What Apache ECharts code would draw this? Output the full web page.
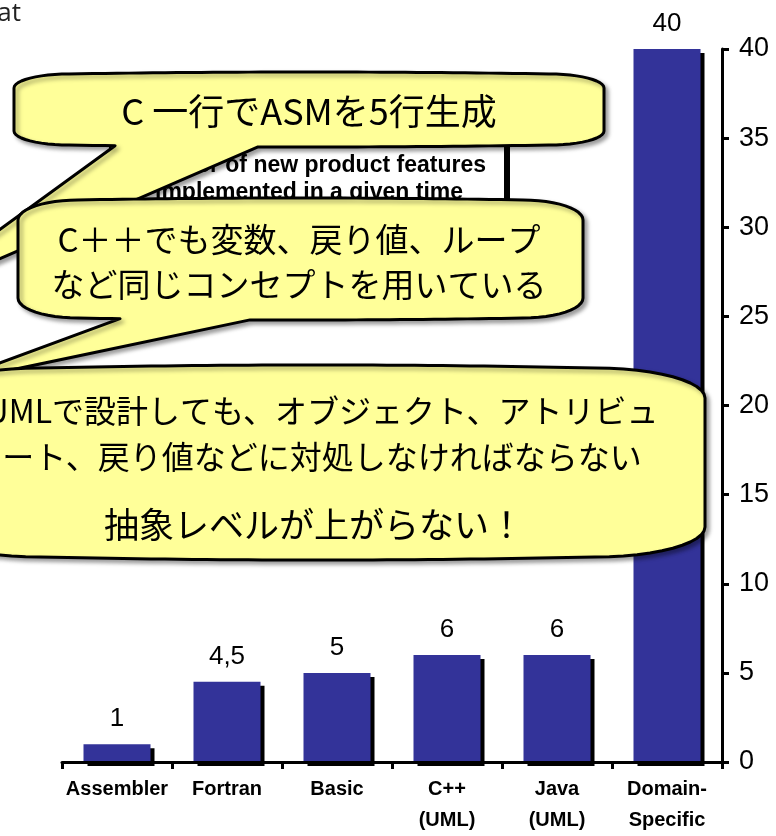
<!DOCTYPE html>
<html>
<head>
<meta charset="utf-8">
<script src="https://cdn.jsdelivr.net/npm/echarts@6/dist/echarts.min.js"></script>
<style>html,body{margin:0;padding:0;background:#fff;overflow:hidden}#c{width:776px;height:836px}</style>
</head>
<body>
<div id="c"></div>
<script>
const categories = ['Assembler', 'Fortran', 'Basic', 'C++\n(UML)', 'Java\n(UML)', 'Domain-\nSpecific'];
const values = [1, 4.5, 5, 6, 6, 40];
const yTicks = [0, 5, 10, 15, 20, 25, 30, 35, 40];
const callout1Text = 'C 一行でASMを5行生成';
const callout2Text = 'C＋＋でも変数、戻り値、ループ\nなど同じコンセプトを用いている';
const callout3Text = 'UMLで設計しても、オブジェクト、アトリビュ\nート、戻り値などに対処しなければならない';
const callout3Line3 = '抽象レベルが上がらない！';
const boxText = 'Number of new product features\nimplemented in a given time';
const cornerText = 'at';

// outline of a speech bubble: rounded box with elliptical corners, slightly bulging top/bottom, optional wedge tail
function bubblePoints(x0, y0, x1, y1, rx, ry, bt, bb, tail) {
  const pts = [];
  const N = 12, M = 40;
  const L = x0 + rx, R = x1 - rx;
  const arc = (cx, cy, a0, a1) => {
    for (let i = 0; i <= N; i++) {
      const a = a0 + (a1 - a0) * i / N;
      pts.push([cx + rx * Math.cos(a), cy + ry * Math.sin(a)]);
    }
  };
  arc(L, y0 + ry, Math.PI, 1.5 * Math.PI);
  for (let i = 1; i < M; i++) { const t = i / M; pts.push([L + (R - L) * t, y0 - 4 * bt * t * (1 - t)]); }
  arc(R, y0 + ry, 1.5 * Math.PI, 2 * Math.PI);
  arc(R, y1 - ry, 0, 0.5 * Math.PI);
  const yb = x => { const t = (x - R) / (L - R); return y1 + 4 * bb * t * (1 - t); };
  let tailDone = false;
  for (let i = 1; i < M; i++) {
    const x = R + (L - R) * i / M;
    if (tail && x < tail.b && x > tail.a) {
      if (!tailDone) {
        pts.push([tail.b, yb(tail.b)], [tail.tx, tail.ty], [tail.a, yb(tail.a)]);
        tailDone = true;
      }
      continue;
    }
    pts.push([x, yb(x)]);
  }
  arc(L, y1 - ry, 0.5 * Math.PI, Math.PI);
  return pts;
}

const bubbleStyle = {
  fill: '#FFFF99', stroke: '#000', lineWidth: 3, lineJoin: 'round',
  shadowColor: 'rgba(0,0,0,0.35)', shadowBlur: 4, shadowOffsetX: 3, shadowOffsetY: 3
};
const cjk = '"Noto Sans CJK JP", "Noto Sans", sans-serif';

const chart = echarts.init(document.getElementById('c'), null, {renderer: 'canvas', width: 776, height: 836});
chart.setOption({
  animation: false,
  backgroundColor: '#fff',
  grid: {left: 62, top: 49, width: 660, height: 720, containLabel: false},
  xAxis: {
    type: 'category', data: categories, z: 5,
    axisLine: {lineStyle: {color: '#000', width: 3}},
    axisTick: {show: true, length: 7, lineStyle: {color: '#000', width: 3}},
    axisLabel: {color: '#000', fontWeight: 'bold', fontSize: 20, fontFamily: '"Liberation Sans", Arial, sans-serif', lineHeight: 31, margin: 12, interval: 0}
  },
  yAxis: {
    type: 'value', position: 'right',
    min: yTicks[0], max: yTicks[yTicks.length - 1], interval: yTicks[1] - yTicks[0],
    axisLine: {show: true, lineStyle: {color: '#000', width: 3}},
    axisTick: {show: true, length: 7, lineStyle: {color: '#000', width: 3}},
    splitLine: {show: false},
    axisLabel: {color: '#000', fontSize: 27, fontFamily: '"Liberation Sans", Arial, sans-serif', margin: 17}
  },
  series: [{
    type: 'bar', data: values, barWidth: 67,
    itemStyle: {color: '#333399', shadowColor: '#000', shadowOffsetX: 4, shadowOffsetY: 4, shadowBlur: 0},
    label: {show: true, position: 'top', distance: 12, fontSize: 26, color: '#000', fontFamily: '"Liberation Sans", Arial, sans-serif',
      formatter: p => String(p.value).replace('.', ',')}
  }],
  graphic: [
    {type: 'text', z: 50, style: {text: cornerText, x: 21, y: 14, align: 'right', verticalAlign: 'middle', font: '26px "Open Sans", sans-serif', fill: '#222'}},
    {type: 'rect', z: 60, shape: {x: 110, y: 143, width: 395, height: 78},
      style: {fill: '#fff', stroke: '#000', lineWidth: 2, shadowColor: '#000', shadowBlur: 0, shadowOffsetX: 4, shadowOffsetY: 3}},
    {type: 'text', z: 61, style: {text: boxText, x: 309, y: 179, align: 'center', verticalAlign: 'middle', lineHeight: 27, font: 'bold 23px "Liberation Sans", Arial, sans-serif', fill: '#000'}},
    {type: 'polygon', z: 70, shape: {points: bubblePoints(14, 74, 604, 145, 55, 14, 2, 2, {a: 115, b: 258, tx: -100, ty: 302})}, style: bubbleStyle},
    {type: 'text', z: 71, style: {text: callout1Text, x: 309, y: 111, align: 'center', verticalAlign: 'middle', font: '36px ' + cjk, fill: '#000'}},
    {type: 'polygon', z: 80, shape: {points: bubblePoints(18, 200, 583, 318, 60, 20, 2, 2, {a: 120, b: 250, tx: -60, ty: 385})}, style: bubbleStyle},
    {type: 'text', z: 81, style: {text: callout2Text, x: 299, y: 262, align: 'center', verticalAlign: 'middle', lineHeight: 45, font: '33px ' + cjk, fill: '#000'}},
    {type: 'polygon', z: 90, shape: {points: bubblePoints(-70, 368, 705, 557, 110, 30, 3, 3, null)}, style: bubbleStyle},
    {type: 'text', z: 91, style: {text: callout3Text, x: 322, y: 434, align: 'center', verticalAlign: 'middle', lineHeight: 46, font: '32px ' + cjk, fill: '#000'}},
    {type: 'text', z: 91, style: {text: callout3Line3, x: 314, y: 525, align: 'center', verticalAlign: 'middle', font: '35px ' + cjk, fill: '#000'}}
  ]
});
</script>
</body>
</html>
